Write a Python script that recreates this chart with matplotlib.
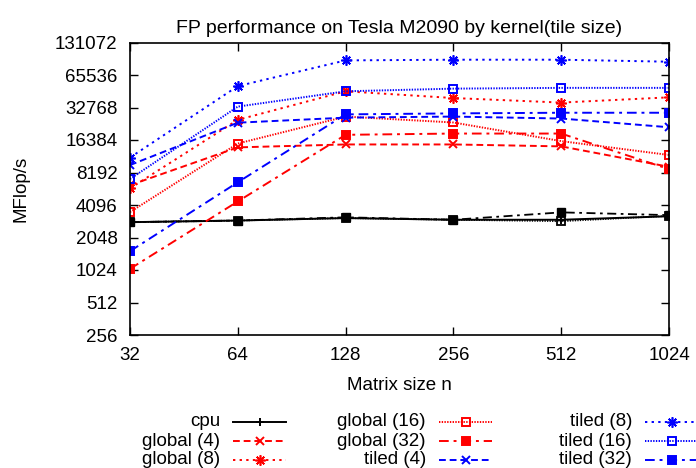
import matplotlib.pyplot as plt
from matplotlib.lines import Line2D

plt.rcParams['font.family'] = ['Liberation Sans', 'DejaVu Sans']

# matrix sizes
sizes = [32, 64, 128, 256, 512, 1024]

# MFlop/s
cpu = [2840, 2940, 3100, 2990, 2990, 3220]
cpu_b = [2840, 2940, 3150, 2990, 3500, 3300]
cpu_c = [2840, 2940, 3100, 2990, 2900, 3250]
global_4 = [6250, 14000, 14900, 14900, 14300, 9250]
global_8 = [5840, 25200, 46300, 40100, 36400, 40700]
global_16 = [3520, 15200, 27000, 23800, 16000, 11900]
global_32 = [1050, 4420, 18300, 18800, 18800, 8800]
tiled_4 = [9600, 23700, 26400, 27000, 25900, 21500]
tiled_8 = [11270, 51700, 89500, 90800, 90800, 87000]
tiled_16 = [7130, 33400, 46300, 49000, 49800, 49800]
tiled_32 = [1530, 6650, 28300, 28900, 29300, 29300]

ytick_vals = [256, 512, 1024, 2048, 4096, 8192, 16384, 32768, 65536, 131072]

DASH = (0, (3.5, 2))
DOT = (0, (1.2, 2.2))
FINE = (0, (0.7, 0.7))
DASHDOT = (0, (5, 2.5, 1.5, 2.5))
STAR = (8, 2, 0)

series = [
    ('cpu', cpu, 'black', '-', '+', 'black'),
    ('global (4)', global_4, 'red', DASH, 'x', 'red'),
    ('global (8)', global_8, 'red', DOT, STAR, 'red'),
    ('global (16)', global_16, 'red', FINE, 's', 'none'),
    ('global (32)', global_32, 'red', DASHDOT, 's', 'red'),
    ('tiled (4)', tiled_4, 'blue', DASH, 'x', 'blue'),
    ('tiled (8)', tiled_8, 'blue', DOT, STAR, 'blue'),
    ('tiled (16)', tiled_16, 'blue', FINE, 's', 'none'),
    ('tiled (32)', tiled_32, 'blue', DASHDOT, 's', 'blue'),
]


def msize(mk):
    return 7.5 if mk == STAR else 5.5


fig = plt.figure(figsize=(6.96, 4.68), dpi=100)
ax = fig.add_axes([130 / 696, 1 - 335 / 468, 539 / 696, 292.5 / 468])

# extra black runs (not in visible legend)
ax.plot(sizes, cpu_b, color='black', ls=DASHDOT, lw=1.3, marker='s', ms=5.5, mfc='black')
ax.plot(sizes, cpu_c, color='black', ls=FINE, lw=1.3, marker='s', ms=5.5, mfc='none', mew=1.3)

for label, vals, col, ls, mk, fc in series:
    ax.plot(sizes, vals, color=col, ls=ls, lw=1.4, marker=mk, ms=msize(mk), mfc=fc,
            mew=1.2 if mk == STAR else 1.4)

ax.set_xscale('log', base=2)
ax.set_yscale('log', base=2)
ax.set_xlim(32, 1024)
ax.set_ylim(256, 131072)
ax.set_xticks(sizes)
ax.set_xticklabels([str(s) for s in sizes])
ax.set_yticks(ytick_vals)
ax.set_yticklabels([str(v) for v in ytick_vals])
ax.minorticks_off()
ax.tick_params(direction='in', length=6, width=1, top=True, right=True,
               labelsize=13.5, pad=9)
for s in ax.spines.values():
    s.set_linewidth(1.2)

ax.set_title('FP performance on Tesla M2090 by kernel(tile size)', fontsize=14, pad=7)
ax.set_xlabel('Matrix size n', fontsize=13.5, labelpad=9)
ax.set_ylabel('MFlop/s', fontsize=13.5, labelpad=18)

# gnuplot-style legend, text right-aligned left of the sample
col_x = [220, 426, 632]
row_y = [422, 441, 460]
for i, (label, vals, col, ls, mk, fc) in enumerate(series):
    c, r = divmod(i, 3)
    tx = col_x[c]
    ty = 1 - row_y[r] / 468
    fig.text(tx / 696, ty, label, ha='right', va='center', fontsize=13.5)
    x0 = (tx + 13) / 696
    x1 = (tx + 66) / 696
    fig.add_artist(Line2D([x0, x1], [ty, ty], transform=fig.transFigure,
                          color=col, ls=ls, lw=1.4))
    fig.add_artist(Line2D([(x0 + x1) / 2], [ty], transform=fig.transFigure,
                          color=col, ls='none', marker=mk, ms=msize(mk), mfc=fc,
                          mew=1.2 if mk == STAR else 1.4))

fig.savefig('out.png', dpi=100)
